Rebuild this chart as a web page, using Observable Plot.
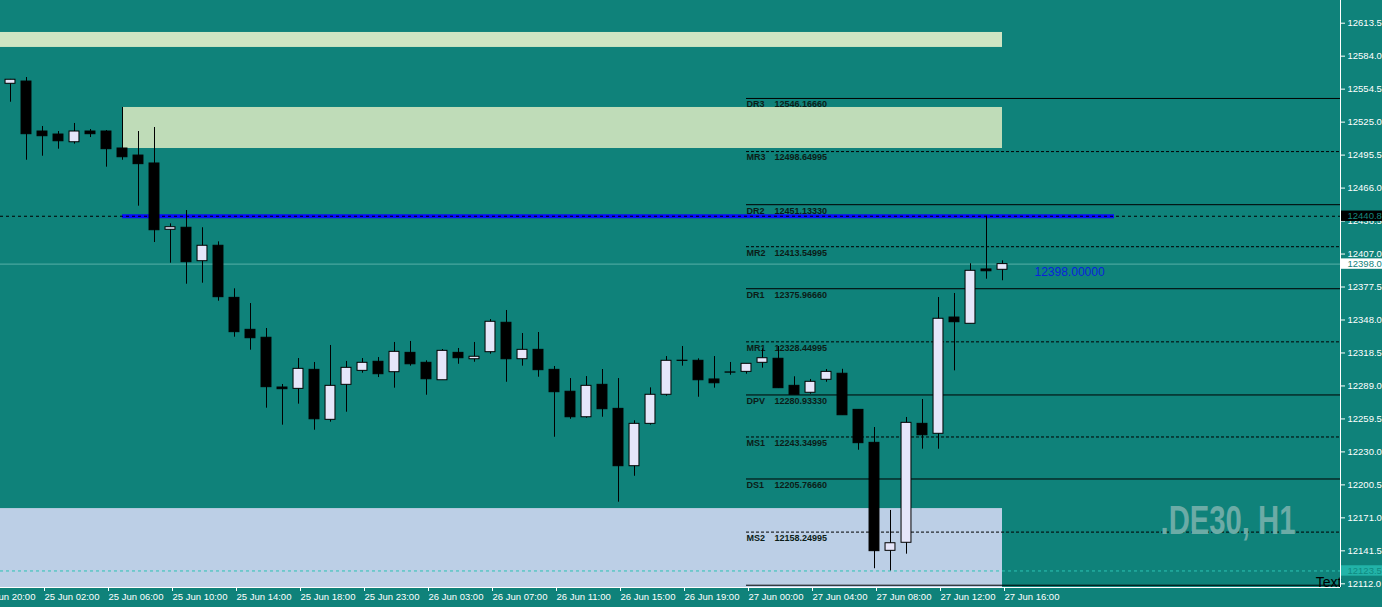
<!DOCTYPE html>
<html><head><meta charset="utf-8">
<script src="https://cdn.jsdelivr.net/npm/d3@7"></script>
<script src="https://cdn.jsdelivr.net/npm/@observablehq/plot@0.6"></script>
<style>
html,body{margin:0;padding:0;background:#0f827a;overflow:hidden;}
#chart svg{display:block;}
</style></head><body><div id="chart"></div>
<script>
// ---- data (bar index = hourly bar, ordinal; market-closed hours skipped) ----
const bars = d3.range(63);
const opens = [12559.3,12561.3,12516.6,12513.9,12507.0,12516.6,12516.6,12501.4,12495.1,12488.0,
  12428.7,12430.5,12400.6,12414.4,12367.8,12339.2,12332.1,12287.6,12286.4,12303.4,
  12258.7,12290.0,12302.5,12310.6,12301.3,12318.6,12309.7,12294.1,12318.6,12312.9,
  12319.2,12345.5,12312.9,12321.3,12303.4,12283.8,12261.0,12290.0,12268.5,12217.2,
  12255.1,12281.1,12311.6,12311.5,12294.8,12301.1,12301.6,12309.7,12313.3,12289.1,
  12282.9,12294.5,12299.9,12267.6,12238.1,12141.5,12148.7,12255.1,12246.2,12350.2,
  12344.6,12393.2,12392.9];
const highs = [12563.2,12564.9,12521.1,12516.6,12523.8,12518.4,12517.5,12538.1,12516.6,12520.2,
  12434.0,12445.9,12430.5,12417.9,12375.9,12362.7,12340.4,12290.3,12313.5,12310.0,
  12325.2,12310.9,12313.5,12314.4,12327.9,12328.8,12311.5,12321.6,12322.5,12327.9,
  12348.4,12356.5,12335.9,12336.8,12306.4,12295.6,12297.4,12303.7,12295.6,12257.8,
  12287.3,12315.3,12324.3,12313.3,12315.3,12310.0,12308.8,12322.2,12324.3,12297.2,
  12294.8,12303.7,12303.9,12267.6,12251.8,12177.6,12260.8,12276.9,12368.1,12371.7,
  12398.3,12440.8,12400.9];
const lows = [12542.8,12490.9,12494.5,12500.8,12505.3,12511.2,12484.7,12490.9,12449.8,12417.3,
  12398.8,12380.0,12380.9,12364.8,12332.6,12321.0,12269.1,12253.9,12272.7,12249.4,
  12256.6,12265.5,12300.4,12296.5,12287.0,12306.7,12280.7,12294.1,12308.4,12310.2,
  12317.4,12292.3,12306.7,12296.8,12243.1,12259.2,12260.1,12261.0,12185.0,12208.2,
  12254.0,12279.8,12306.7,12278.9,12287.0,12298.6,12299.5,12304.9,12286.7,12281.1,
  12281.6,12292.3,12262.8,12231.5,12125.5,12123.5,12138.5,12232.4,12232.4,12302.5,
  12344.6,12384.5,12383.1];
const closes = [12562.9,12514.2,12512.4,12507.9,12516.6,12514.2,12500.8,12493.6,12487.4,12428.3,
  12431.0,12399.7,12414.4,12368.4,12337.1,12331.7,12287.9,12286.1,12304.3,12259.2,
  12289.1,12305.2,12309.7,12299.5,12319.5,12308.4,12295.0,12320.4,12313.8,12315.1,
  12346.4,12312.9,12321.3,12303.1,12283.4,12261.0,12289.1,12268.2,12217.2,12255.1,
  12281.1,12311.5,12311.4,12294.1,12291.4,12300.9,12308.8,12313.8,12287.0,12281.1,
  12292.7,12301.6,12262.8,12237.8,12141.2,12148.3,12256.0,12244.9,12349.1,12346.0,
  12392.0,12391.6,12398.0];

const xTickBars = [-2,2,6,10,14,18,22,26,30,34,38,42,46,50,54,58,62];
const xTickLabels = ["24 Jun 20:00","25 Jun 02:00","25 Jun 06:00","25 Jun 10:00","25 Jun 14:00",
  "25 Jun 18:00","25 Jun 23:00","26 Jun 03:00","26 Jun 07:00","26 Jun 11:00","26 Jun 15:00",
  "26 Jun 19:00","27 Jun 00:00","27 Jun 04:00","27 Jun 08:00","27 Jun 12:00","27 Jun 16:00"];
const yTicks = [12613.5,12584.0,12554.5,12525.0,12495.5,12466.0,12436.5,12407.0,12377.5,
  12348.0,12318.5,12289.0,12259.5,12230.0,12200.5,12171.0,12141.5,12112.0];

const levelNames  = ["DR3","MR3","DR2","MR2","DR1","MR1","DPV","MS1","DS1","MS2","DS2"];
const levelValues = [12546.16660,12498.64995,12451.13330,12413.54995,12375.96660,12328.44995,
  12280.93330,12243.34995,12205.76660,12158.24995,12110.73330];
const levelDashed = [false,true,false,true,false,true,false,true,false,true,false];
const levelStartBar = 46;

const zoneStartBar = [null, 7, null];   // null = starts before visible history
const zoneEndBar   = [62, 62, 62];
const zoneTop      = [12605.2, 12538.1, 12179.3];
const zoneBottom   = [12591.8, 12501.4, null]; // null = runs to chart bottom
const zoneKind     = ["supplyFar","supply","demand"];

const highPrice = 12440.8, bidPrice = 12398.0, lowPrice = 12123.5;
const trendStartBar = 7, trendEndBar = 69, trendPrice = 12440.8;
const priceTextBar = 64;
const symbolText = ".DE30, H1";

// ---- scales ----
const xDomain = [-10/16, 1330/16];
const yDomain = [12108.7, 12633.8];
const BG = "#0f827a";

const candles = bars.map((k,i)=>({k, open:opens[i], high:highs[i], low:lows[i], close:closes[i]}));
const levels = levelNames.map((n,i)=>({name:n, value:levelValues[i], dashed:levelDashed[i]}));
const zones = zoneKind.map((kind,i)=>({
  kind,
  x1: zoneStartBar[i] ?? xDomain[0],
  x2: zoneEndBar[i],
  y1: zoneBottom[i] ?? yDomain[0],
  y2: zoneTop[i]
}));
const zoneColor = {supplyFar:"#cfe5c3", supply:"#bfdcb8", demand:"#bccfe6"};
const halfBox = 5.2/1.1178;

const font = "Liberation Sans, Arial, sans-serif";

const chart = Plot.plot({
  width: 1382, height: 607,
  marginLeft: 0, marginRight: 42, marginTop: 0, marginBottom: 20,
  x: {type:"linear", domain: xDomain},
  y: {type:"linear", domain: yDomain},
  style: {background: BG, color: "white", fontFamily: font, fontSize: "9px", overflow: "visible"},
  marks: [
    Plot.rect(zones, {x1:"x1", x2:"x2", y1:"y1", y2:"y2", fill: d=>zoneColor[d.kind]}),
    Plot.ruleY([bidPrice], {stroke:"#58b0a8", strokeWidth:1}),
    Plot.ruleY([lowPrice], {stroke:"#2cc2b5", strokeDasharray:"3,3", strokeWidth:1}),
    Plot.ruleY(levels.filter(d=>!d.dashed), {y:"value", x1: levelStartBar, x2: xDomain[1], stroke:"#000", strokeWidth:1}),
    Plot.ruleY(levels.filter(d=>d.dashed), {y:"value", x1: levelStartBar, x2: xDomain[1], stroke:"#000", strokeWidth:1, strokeDasharray:"3,2"}),
    Plot.text(levels.filter(d=>d.name!=="DS2"), {x: levelStartBar, y:"value", text:"name", textAnchor:"start", dy:6, dx:0,
      fill:"#0b1c17", fontWeight:"bold", fontSize:9, fontFamily:font}),
    Plot.text(levels.filter(d=>d.name!=="DS2"), {x: levelStartBar, y:"value", text: d=>d.value.toFixed(5), textAnchor:"start", dy:6, dx:28,
      fill:"#0b1c17", fontWeight:"bold", fontSize:9, fontFamily:font}),
    Plot.ruleY([trendPrice], {x1: trendStartBar, x2: trendEndBar, stroke:"#0a0aff", strokeWidth:4}),
    Plot.ruleY([highPrice], {stroke:"#000", strokeWidth:1, strokeDasharray:"3,3"}),
    Plot.ruleX(candles, {x:"k", y1:"low", y2:"high", stroke:"#000", strokeWidth:1}),
    Plot.rect(candles, {x1: d=>d.k-0.31, x2: d=>d.k+0.31, y1:"open", y2:"close",
      fill: d=> d.close>=d.open ? "#e6e6fa" : "#000", stroke:"#000", strokeWidth:1}),
    Plot.text([bidPrice], {x: priceTextBar, y: d=>d, text: d=>d.toFixed(5), textAnchor:"start", dy:8,
      fill:"#0b22dc", fontSize:12, fontFamily:font}),
    Plot.text([symbolText], {frameAnchor:"bottom-right", text: d=>d, textAnchor:"end", lineAnchor:"middle",
      dx:-45, dy:-66, fill:"#6caba6", fontSize:40, fontWeight:"bold", fontFamily:font, className:"watermark"}),
    Plot.text(["Text"], {frameAnchor:"bottom-right", text: d=>d, textAnchor:"end", lineAnchor:"bottom",
      dx:1, dy:-1, fill:"#000", fontSize:14, fontFamily:font}),
    Plot.ruleX([xDomain[1]], {stroke:"white"}),
    Plot.ruleY([yDomain[0]], {stroke:"white"}),
    Plot.axisY({anchor:"right", ticks: yTicks, tickFormat: d=>d.toFixed(1), tickSize:4, tickPadding:3,
      color:"white", fontSize:9.5, fontFamily:font, label:null}),
    Plot.axisX({ticks: xTickBars, tickFormat: d=>xTickLabels[xTickBars.indexOf(d)], tickSize:4, tickPadding:2,
      textAnchor:"start", dx:2, color:"white", fontSize:9.5, fontFamily:font, label:null}),
    Plot.rect([highPrice], {x1: xDomain[1]+1/16, x2: xDomain[1]+2.7, y1: d=>d-halfBox, y2: d=>d+halfBox, fill:"#000"}),
    Plot.text([highPrice], {x: xDomain[1], y: d=>d, text: d=>d.toFixed(1), textAnchor:"start", dx:7, fill:"#14877e", fontSize:9.5, fontFamily:font}),
    Plot.rect([bidPrice], {x1: xDomain[1]+1/16, x2: xDomain[1]+2.7, y1: d=>d-halfBox, y2: d=>d+halfBox, fill:"#fff"}),
    Plot.text([bidPrice], {x: xDomain[1], y: d=>d, text: d=>d.toFixed(1), textAnchor:"start", dx:7, fill:"#0f827a", fontSize:9.5, fontFamily:font}),
    Plot.rect([lowPrice], {x1: xDomain[1]+1/16, x2: xDomain[1]+2.7, y1: d=>d-halfBox, y2: d=>d+halfBox, fill:"#22b3a8"}),
    Plot.text([lowPrice], {x: xDomain[1], y: d=>d, text: d=>d.toFixed(1), textAnchor:"start", dx:7, fill:"#0f8a80", fontSize:9.5, fontFamily:font})
  ]
});
// condense the symbol watermark to the width it has in the terminal
d3.select(chart).selectAll("g.watermark text, .watermark text")
  .attr("textLength", 135).attr("lengthAdjust", "spacingAndGlyphs");
document.getElementById("chart").append(chart);
</script></body></html>
